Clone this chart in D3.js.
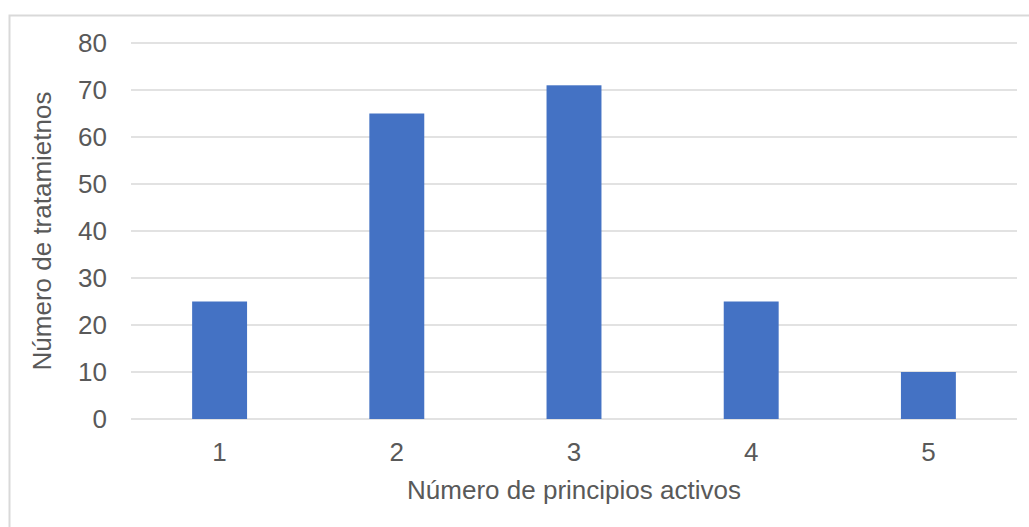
<!DOCTYPE html>
<html>
<head>
<meta charset="utf-8">
<script src="https://cdn.jsdelivr.net/npm/d3@7"></script>
<style>
  body { margin: 0; background: #fff; }
  svg { display: block; font-family: "Liberation Sans", Arial, sans-serif; }
</style>
</head>
<body>
<svg id="chart"></svg>
<script>
const categories = ['1', '2', '3', '4', '5'];
const values = [25, 65, 71, 25, 10];
const yTicks = [0, 10, 20, 30, 40, 50, 60, 70, 80];

const width = 1029;
const height = 527;
const margin = { top: 43, right: 12, bottom: 108, left: 131 };
const fontSize = '26px';

const svg = d3.select('#chart')
	.attr('width', width)
	.attr('height', height);

// chart frame (runs off the right/bottom edge like the original)
svg.append('rect')
	.attr('x', 9.5)
	.attr('y', 15.5)
	.attr('width', 1040)
	.attr('height', 540)
	.attr('fill', 'none')
	.attr('stroke', '#d9d9d9')
	.attr('stroke-width', 2);

const x = d3.scaleBand()
	.domain(categories)
	.range([margin.left, width - margin.right])
	.paddingInner(0.69)
	.paddingOuter(0.345);

const y = d3.scaleLinear()
	.domain([0, 80])
	.range([height - margin.bottom, margin.top]);

// gridlines
svg.append('g')
	.selectAll('line')
	.data(yTicks)
	.enter()
		.append('line')
		.attr('x1', margin.left)
		.attr('x2', width - margin.right)
		.attr('y1', d => y(d))
		.attr('y2', d => y(d))
		.attr('stroke', '#d9d9d9')
		.attr('stroke-width', 1.5);

// y tick labels
svg.append('g')
	.selectAll('text')
	.data(yTicks)
	.enter()
		.append('text')
		.attr('x', 107)
		.attr('y', d => y(d))
		.attr('dy', '0.35em')
		.attr('text-anchor', 'end')
		.attr('fill', '#595959')
		.style('font-size', fontSize)
		.text(d => d);

// bars
svg.append('g')
	.selectAll('rect')
	.data(values)
	.enter()
		.append('rect')
		.attr('x', (d, i) => x(categories[i]))
		.attr('y', d => y(d))
		.attr('width', x.bandwidth())
		.attr('height', d => y(0) - y(d))
		.attr('fill', '#4472c4');

// x tick labels
svg.append('g')
	.selectAll('text')
	.data(categories)
	.enter()
		.append('text')
		.attr('x', d => x(d) + x.bandwidth() / 2)
		.attr('y', 452)
		.attr('dy', '0.35em')
		.attr('text-anchor', 'middle')
		.attr('fill', '#595959')
		.style('font-size', fontSize)
		.text(d => d);

// axis titles
svg.append('text')
	.attr('x', (margin.left + width - margin.right) / 2)
	.attr('y', 490)
	.attr('dy', '0.35em')
	.attr('text-anchor', 'middle')
	.attr('fill', '#595959')
	.style('font-size', fontSize)
	.text('Número de principios activos');

svg.append('text')
	.attr('transform', 'translate(42,' + ((margin.top + height - margin.bottom) / 2) + ') rotate(-90)')
	.attr('dy', '0.35em')
	.attr('text-anchor', 'middle')
	.attr('fill', '#595959')
	.style('font-size', fontSize)
	.text('Número de tratamietnos');
</script>
</body>
</html>
